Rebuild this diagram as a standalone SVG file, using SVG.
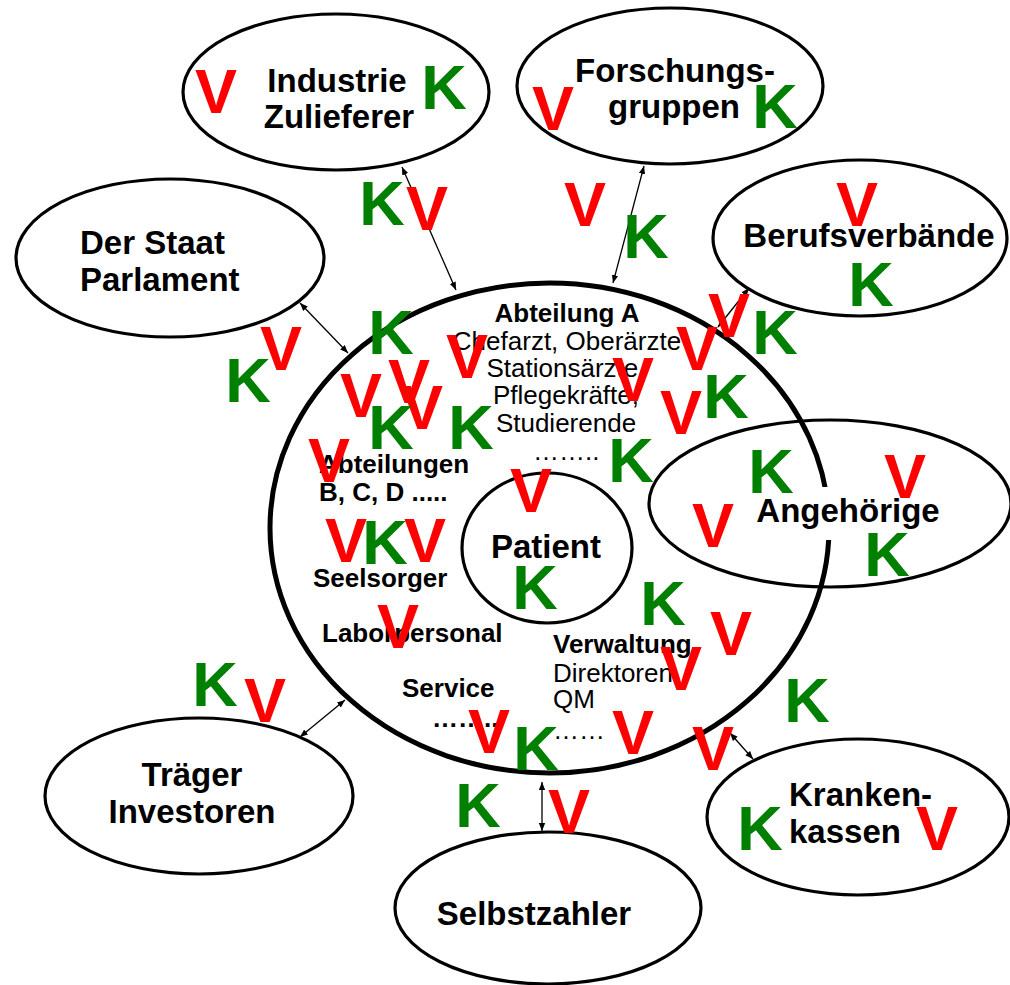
<svg xmlns="http://www.w3.org/2000/svg" width="1010" height="985" viewBox="0 0 1010 985">
<defs>
<marker id="ah" viewBox="0 0 10 10" refX="10" refY="5" markerWidth="8" markerHeight="8" markerUnits="userSpaceOnUse" orient="auto-start-reverse">
<path d="M0,1 L10,5 L0,9 z" fill="#000"/>
</marker>
<style>
.node{fill:none;stroke:#000;stroke-width:3.2}
.big{fill:none;stroke:#000;stroke-width:5}
.lbl{font-family:"Liberation Sans",Arial,sans-serif;font-weight:bold;font-size:33px;fill:#000}
.in{font-family:"Liberation Sans",Arial,sans-serif;font-size:26px;fill:#000}
.b{font-weight:bold}
.conn line{stroke:#000;stroke-width:1.3;marker-start:url(#ah);marker-end:url(#ah)}
.v{font-family:"Liberation Sans",Arial,sans-serif;font-weight:bold;font-size:63px;fill:#FF0000;text-anchor:middle}
.k{font-family:"Liberation Sans",Arial,sans-serif;font-weight:bold;font-size:63px;fill:#008000;text-anchor:middle}
</style>
</defs>
<rect width="1010" height="985" fill="#fff"/>

<g id="klinik">
<ellipse class="big" cx="549.5" cy="528" rx="279.5" ry="245"/>
<text class="in b" x="567" y="322" text-anchor="middle">Abteilung A</text>
<text class="in" x="567" y="350" text-anchor="middle">Chefarzt, Oberärzte</text>
<text class="in" x="566" y="377" text-anchor="middle">Stationsärzte,</text>
<text class="in" x="566" y="404" text-anchor="middle">Pflegekräfte,</text>
<text class="in" x="566" y="432" text-anchor="middle">Studierende</text>
<text class="in" x="533" y="460">……..</text>
<text class="in b" x="319" y="473">Abteilungen</text>
<text class="in b" x="319" y="501">B, C, D .....</text>
<text class="in b" x="313" y="587">Seelsorger</text>
<text class="in b" x="322" y="642">Laborpersonal</text>
<text class="in b" x="402" y="697">Service</text>
<text class="in b" x="432" y="727">……..</text>
<text class="in b" x="553" y="653">Verwaltung</text>
<text class="in" x="553" y="682">Direktoren</text>
<text class="in" x="553" y="708">QM</text>
<text class="in" x="553" y="739">……</text>
</g>

<g id="patient">
<ellipse class="node" cx="547" cy="548" rx="85" ry="75"/>
<text class="lbl" x="546" y="558" text-anchor="middle">Patient</text>
</g>

<g id="industrie">
<ellipse class="node" cx="336" cy="92" rx="153" ry="78"/>
<text class="lbl" x="337" y="92" text-anchor="middle">Industrie</text>
<text class="lbl" x="339" y="128" text-anchor="middle">Zulieferer</text>
</g>

<g id="forschung">
<ellipse class="node" cx="670" cy="86" rx="153" ry="78"/>
<text class="lbl" x="675" y="82" text-anchor="middle">Forschungs-</text>
<text class="lbl" x="674" y="118" text-anchor="middle">gruppen</text>
</g>

<g id="berufsverbaende">
<ellipse class="node" cx="860" cy="238" rx="147" ry="78"/>
<text class="lbl" x="869" y="247" text-anchor="middle">Berufsverbände</text>
</g>

<g id="staat">
<ellipse class="node" cx="170" cy="258" rx="154" ry="79"/>
<text class="lbl" x="80" y="254">Der Staat</text>
<text class="lbl" x="80" y="291">Parlament</text>
</g>

<g id="angehoerige">
<ellipse class="node" cx="830" cy="503.5" rx="181" ry="83.5"/>
<rect x="752" y="487" width="195" height="53" fill="#fff"/>
<text class="lbl" x="848" y="522" text-anchor="middle">Angehörige</text>
</g>

<g id="traeger">
<ellipse class="node" cx="199" cy="796" rx="154" ry="78"/>
<text class="lbl" x="192" y="786" text-anchor="middle">Träger</text>
<text class="lbl" x="192" y="823" text-anchor="middle">Investoren</text>
</g>

<g id="selbstzahler">
<ellipse class="node" cx="548" cy="908" rx="153" ry="76"/>
<text class="lbl" x="534" y="925" text-anchor="middle">Selbstzahler</text>
</g>

<g id="krankenkassen">
<ellipse class="node" cx="858" cy="817" rx="151" ry="78"/>
<text class="lbl" x="789" y="806">Kranken-</text>
<text class="lbl" x="789" y="843">kassen</text>
</g>

<g id="connectors" class="conn">
<line x1="402" y1="167" x2="456" y2="290"/>
<line x1="644" y1="166" x2="613" y2="283"/>
<line x1="749" y1="288" x2="718" y2="327"/>
<line x1="300" y1="303" x2="348" y2="353"/>
<line x1="300" y1="737" x2="345" y2="700"/>
<line x1="542" y1="782" x2="542" y2="831"/>
<line x1="730" y1="733" x2="753" y2="759"/>
</g>

<g id="v-labels">
<text class="v" x="216" y="113">V</text>
<text class="v" x="427" y="230">V</text>
<text class="v" x="553" y="130">V</text>
<text class="v" x="585" y="226">V</text>
<text class="v" x="857" y="226">V</text>
<text class="v" x="281" y="370">V</text>
<text class="v" x="361" y="417">V</text>
<text class="v" x="409" y="403">V</text>
<text class="v" x="422" y="429">V</text>
<text class="v" x="467" y="378">V</text>
<text class="v" x="329" y="482">V</text>
<text class="v" x="531" y="512">V</text>
<text class="v" x="346" y="562">V</text>
<text class="v" x="425" y="562">V</text>
<text class="v" x="398" y="648">V</text>
<text class="v" x="729" y="337">V</text>
<text class="v" x="697" y="370">V</text>
<text class="v" x="633" y="401">V</text>
<text class="v" x="681" y="434">V</text>
<text class="v" x="713" y="547">V</text>
<text class="v" x="905" y="498">V</text>
<text class="v" x="731" y="655">V</text>
<text class="v" x="681" y="690">V</text>
<text class="v" x="633" y="754">V</text>
<text class="v" x="713" y="770">V</text>
<text class="v" x="489" y="753">V</text>
<text class="v" x="569" y="833">V</text>
<text class="v" x="937" y="850">V</text>
<text class="v" x="265" y="722">V</text>
</g>

<g id="k-labels">
<text class="k" x="444" y="109">K</text>
<text class="k" x="382" y="225">K</text>
<text class="k" x="775" y="128">K</text>
<text class="k" x="646" y="258">K</text>
<text class="k" x="871" y="306">K</text>
<text class="k" x="248" y="402">K</text>
<text class="k" x="391" y="354">K</text>
<text class="k" x="391" y="449">K</text>
<text class="k" x="471" y="449">K</text>
<text class="k" x="775" y="354">K</text>
<text class="k" x="726" y="418">K</text>
<text class="k" x="631" y="482">K</text>
<text class="k" x="771" y="493">K</text>
<text class="k" x="887" y="576">K</text>
<text class="k" x="385" y="564">K</text>
<text class="k" x="535" y="609">K</text>
<text class="k" x="663" y="625">K</text>
<text class="k" x="807" y="722">K</text>
<text class="k" x="536" y="770">K</text>
<text class="k" x="478" y="827">K</text>
<text class="k" x="760" y="850">K</text>
<text class="k" x="215" y="706">K</text>
</g>
</svg>
